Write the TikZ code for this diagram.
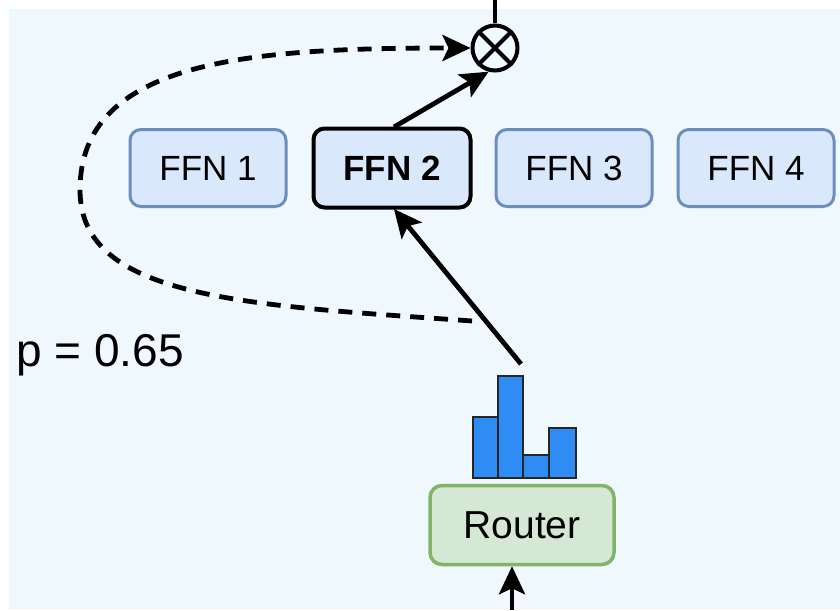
\documentclass[tikz,border=0pt]{standalone}
\usepackage{fontspec}
\setmainfont{Liberation Sans}
\usetikzlibrary{arrows.meta}
\definecolor{bg}{RGB}{238,248,253}
\definecolor{ffnfill}{RGB}{218,232,252}
\definecolor{ffnline}{RGB}{108,142,191}
\definecolor{rfill}{RGB}{213,232,212}
\definecolor{rline}{RGB}{130,179,102}
\definecolor{barblue}{RGB}{48,140,245}
\tikzset{
  ffnbox/.style={draw=ffnline, fill=ffnfill, line width=3pt, rounded corners=11pt,
    minimum width=156pt, minimum height=77pt, inner sep=0pt,
    font=\fontsize{35}{40}\selectfont},
  activebox/.style={ffnbox, draw=black, line width=4pt, minimum width=157pt, minimum height=79pt},
  routerbox/.style={draw=rline, fill=rfill, line width=3.5pt, rounded corners=12pt,
    minimum width=184pt, minimum height=79pt, inner sep=0pt,
    font=\fontsize{39}{46}\selectfont},
  conn/.style={line width=4.8pt, -{Stealth[length=28pt,width=26pt,inset=6pt]}},
  dconn/.style={line width=4.8pt, dash pattern=on 14pt off 10pt, -{Stealth[length=28pt,width=26pt,inset=6pt]}},
  barstyle/.style={fill=barblue, draw=black!85, line width=2pt}
}
\begin{document}
\begin{tikzpicture}[x=1pt,y=-1pt]
\useasboundingbox (0,0) rectangle (840,610);
\fill[bg] (9,9) rectangle (840,610);

% FFN boxes
\node[ffnbox] (f1) at (208,168) {FFN 1};
\node[activebox] (f2) at (392,168) {\bfseries FFN 2};
\node[ffnbox] (f3) at (574,168) {FFN 3};
\node[ffnbox] (f4) at (756,168) {FFN 4};

% multiply node
\node[draw, circle, line width=4pt, minimum size=45pt, inner sep=0pt] (mul) at (495,48) {};
\draw[line width=4pt] (mul.45) -- (mul.225) (mul.135) -- (mul.315);
\coordinate (topend) at (495,0);
\draw[line width=4pt] (mul.north) -- (topend);

% router
\node[routerbox] (router) at (522,525) {Router};

% histogram bars
\draw[barstyle] (473,417) rectangle (498,478);
\draw[barstyle] (498,376) rectangle (523,478);
\draw[barstyle] (523,455) rectangle (549,478);
\draw[barstyle] (549,428) rectangle (576,478);

% connectors
\coordinate (rstart) at (521,364);
\coordinate (f2in) at (394,209);
\draw[conn] (rstart) -- (f2in);
\coordinate (f2out) at (394,127);
\draw[conn] (f2out) -- (mul.255);
\coordinate (bottom) at (512,610);
\draw[conn] (bottom) -- (bottom |- router.south);

\coordinate (dstart) at (472,321);
\coordinate (dmid) at (80,190);
\draw[dconn] (dstart) .. controls (250,305) and (80,300) .. (dmid)
  .. controls (80,60) and (250,48) .. (mul.west);

\node[anchor=west, inner sep=0pt, font=\fontsize{46}{52}\selectfont] (p) at (16,355) {p = 0.65};
\end{tikzpicture}
\end{document}
